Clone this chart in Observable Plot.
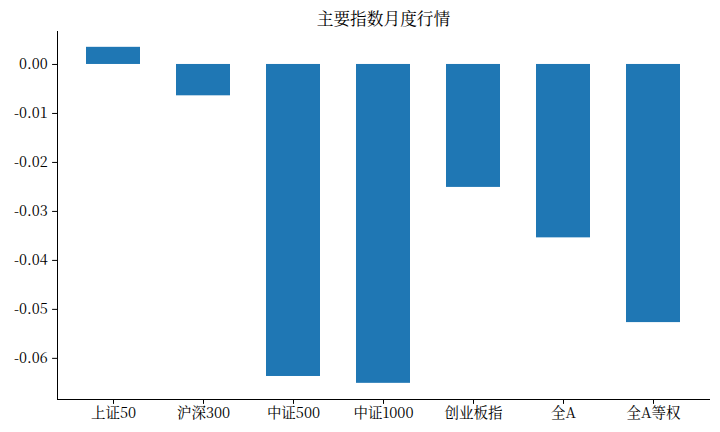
<!DOCTYPE html>
<html>
<head>
<meta charset="utf-8">
<script src="https://cdn.jsdelivr.net/npm/d3@7"></script>
<script src="https://cdn.jsdelivr.net/npm/@observablehq/plot@0.6"></script>
<style>
  html, body { margin: 0; padding: 0; background: #fff; }
  svg { display: block; }
  svg, svg text { font-family: "Noto Serif CJK SC", "Noto Sans CJK SC", serif !important; }
</style>
</head>
<body>
<div id="chart"></div>
<script>
const categories = ["上证50", "沪深300", "中证500", "中证1000", "创业板指", "全A", "全A等权"];
const values = [0.0035, -0.0064, -0.0637, -0.0651, -0.0251, -0.0354, -0.0527];
const yTicks = [0, -0.01, -0.02, -0.03, -0.04, -0.05, -0.06];
const title = "主要指数月度行情";

const data = categories.map((c, i) => ({ name: c, value: values[i] }));

const chart = Plot.plot({
  width: 720,
  height: 432,
  marginTop: 31,
  marginBottom: 33,
  marginLeft: 57,
  marginRight: 11,
  style: { fontSize: "14.5px", color: "#000", background: "#fff" },
  x: {
    domain: categories,
    paddingInner: 0.4,
    paddingOuter: 0.322,
    label: null,
    tickSize: 4.9,
    tickPadding: 3,
    line: true
  },
  y: {
    domain: [-0.0684, 0.00673],
    ticks: yTicks,
    tickFormat: d => d.toFixed(2),
    label: null,
    tickSize: 4.9,
    tickPadding: 4.9,
    line: true
  },
  marks: [
    Plot.barY(data, { x: "name", y: "value", fill: "#1f77b4" }),
    Plot.text([title], { frameAnchor: "top", lineAnchor: "bottom", dy: -7, text: d => d, fontSize: 16.7, fill: "#000" })
  ]
});
document.getElementById("chart").appendChild(chart);
</script>
</body>
</html>
